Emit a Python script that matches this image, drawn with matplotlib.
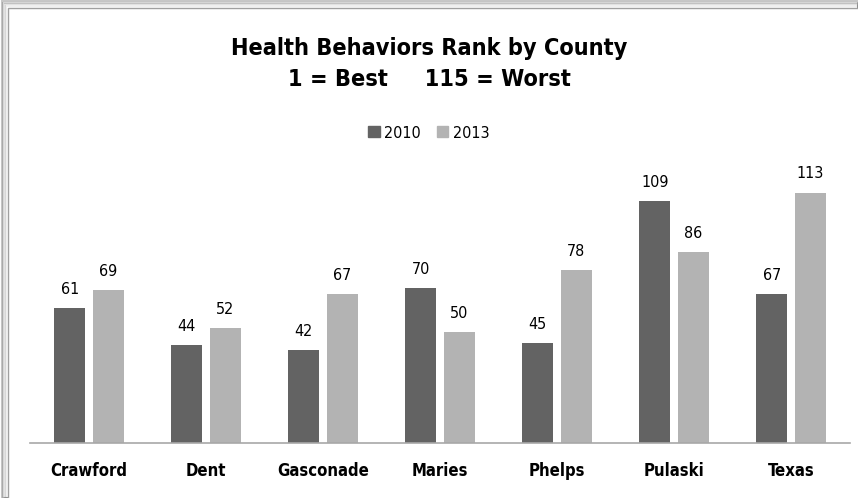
import matplotlib
matplotlib.use("Agg")
import matplotlib.pyplot as plt
from matplotlib.patches import Rectangle, Patch
import numpy as np

counties = ["Crawford", "Dent", "Gasconade", "Maries", "Phelps", "Pulaski", "Texas"]
rank_2010 = [61, 44, 42, 70, 45, 109, 67]
rank_2013 = [69, 52, 67, 50, 78, 86, 113]
series_names = ["2010", "2013"]

dark = "#636363"
light = "#b3b3b3"
plt.rcParams["font.family"] = ["DejaVu Sans"]
plt.rcParams["font.stretch"] = "condensed"

fig = plt.figure(figsize=(8.58, 4.98), dpi=100)
fig.patch.set_facecolor("white")

# chart frame with a soft shadow on the left/top
for i, a in enumerate([0.06, 0.10, 0.15, 0.22]):
    off = (4 - i) * 1.5
    fig.patches.append(Rectangle((off / 858, 0), 1 - off / 858, 1 - off / 498,
                                 transform=fig.transFigure, facecolor="none",
                                 edgecolor="black", alpha=a, lw=1.5, zorder=-3))
fig.patches.append(Rectangle((8 / 858, -0.01), 1, 1 - 8 / 498 + 0.01,
                             transform=fig.transFigure, facecolor="white",
                             edgecolor="#a0a0a0", lw=1.0, zorder=-2))

ax = fig.add_axes([30.5 / 858, (498 - 443) / 498, (849.5 - 30.5) / 858, (443 - 177) / 498])
ax.set_zorder(2)
ax.set_facecolor("none")
x = np.arange(len(counties))
w = 0.26
gap = 0.07
b1 = ax.bar(x - (w + gap) / 2, rank_2010, w, color=dark, label=series_names[0])
b2 = ax.bar(x + (w + gap) / 2, rank_2013, w, color=light, label=series_names[1])
for bars in (b1, b2):
    ax.bar_label(bars, padding=8, fontsize=11.5, color="black")

ax.set_xlim(-0.5, len(counties) - 0.5)
ax.set_ylim(0, 120)
ax.set_yticks([])
ax.set_xticks(x)
ax.set_xticklabels(counties, fontsize=12, fontweight="bold")
ax.tick_params(axis="x", length=0, pad=14)
for s in ["top", "right", "left"]:
    ax.spines[s].set_visible(False)
ax.spines["bottom"].set_color("#a8a8a8")
ax.spines["bottom"].set_linewidth(1.2)

fig.text(0.5, 1 - 48 / 498, "Health Behaviors Rank by County", ha="center", va="center",
         fontsize=16.8, fontweight="bold")
fig.text(0.5, 1 - 79 / 498, "1 = Best     115 = Worst", ha="center", va="center",
         fontsize=16.8, fontweight="bold")

handles = [Patch(color=dark), Patch(color=light)]
fig.legend(handles, series_names, loc="center", bbox_to_anchor=(0.5, 1 - 133 / 498),
           ncol=2, frameon=False, fontsize=11.5, handlelength=0.7, handleheight=0.7,
           handletextpad=0.3, columnspacing=1.0)

fig.savefig("out.png", dpi=100)
